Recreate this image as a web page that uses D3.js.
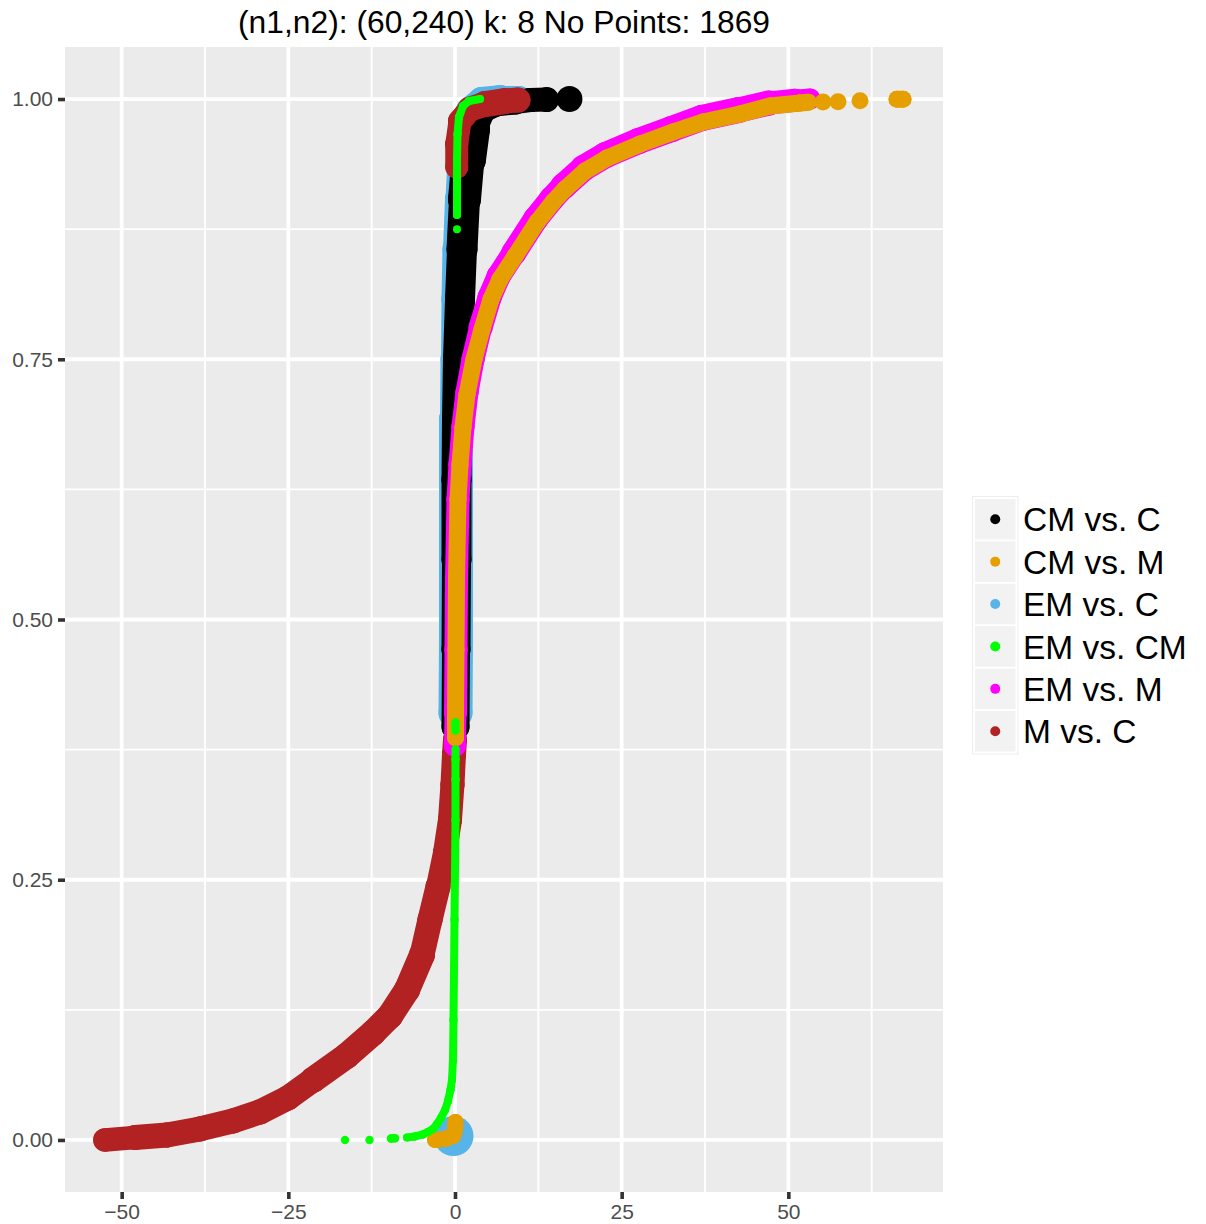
<!DOCTYPE html>
<html>
<head>
<meta charset="utf-8">
<script src="https://cdn.jsdelivr.net/npm/d3@7"></script>
<style>
  body { margin: 0; background: #ffffff; }
  svg { display: block; }
  text { font-family: "Liberation Sans", Arial, Helvetica, sans-serif; }
</style>
</head>
<body>
<svg id="chart" width="1206" height="1224"></svg>
<script>
// Title and axis ticks
const titleText = "(n1,n2): (60,240) k: 8 No Points: 1869";
const xTicks = [-50, -25, 0, 25, 50];
const yTicks = [0, 0.25, 0.5, 0.75, 1];

// Series, in legend order
const seriesNames = ["CM vs. C", "CM vs. M", "EM vs. C", "EM vs. CM", "EM vs. M", "M vs. C"];

// Each sampled point is [x, y, size]; null splits a series into separate runs.
const cmVsC = [
  [0.075, 0.3971, 7], [0.15, 0.4712, 7.25], [0.225, 0.5577, 7.5], [0.225, 0.6346, 7.5],
  [0.3, 0.6923, 7.5], [0.45, 0.75, 7.5], [0.75, 0.8077, 7.5], [1.05, 0.8558, 7.75],
  [1.425, 0.9038, 8.25], [1.95, 0.9423, 9], [2.55, 0.9712, 9], [3.75, 0.9885, 7.5],
  [6, 0.9952, 6.5], [9, 0.9971, 6.25], [11.25, 0.999, 6], [13.75, 0.9995, 6.25],
  null, [17.17, 1, 6.5]
];

const cmVsM = [
  [-3, 0, 4], [-1.5, 0.001, 4], [-0.3, 0.0038, 4], [0, 0.0096, 4], [0.075, 0.0173, 4],
  null,
  [0.075, 0.3865, 4.25], [0.075, 0.4106, 4.25], [0.15, 0.4712, 4.25], [0.225, 0.5385, 4.25],
  [0.45, 0.6154, 4.25], [0.75, 0.649, 4.25], [1.2, 0.6846, 4.25], [1.8, 0.7163, 4.25],
  [2.85, 0.75, 4.25], [4.05, 0.7788, 4.25], [5.4, 0.8077, 4.25], [6.75, 0.8269, 4.25],
  [9, 0.849, 4.25], [12.3, 0.8817, 4.25], [14.7, 0.901, 4.25], [16.5, 0.9135, 4.25],
  [19.5, 0.9308, 4.25], [22.8, 0.9433, 4.25], [27.75, 0.9567, 4.25], [32.7, 0.9683, 4.25],
  [37.2, 0.9779, 4.25], [42.75, 0.9856, 4.25], [47.25, 0.9933, 4.25], [51.75, 0.9962, 4.25],
  [53, 0.997, 4.25],
  null, [55.2, 0.9971, 4.25],
  null, [57.45, 0.9974, 4.25],
  null, [60.75, 0.9984, 4.25],
  null, [66.3, 0.9997, 4.25], [67.2, 0.9997, 4.25]
];

const emVsC = [
  [-0.225, 0.0038, 10],
  null,
  [0.075, 0.4106, 8.5], [0.15, 0.4808, 8.5], [0.15, 0.5577, 8.5], [0.15, 0.6346, 8.5],
  [0.15, 0.6923, 8.5], [0.225, 0.75, 8], [0.3, 0.8077, 7.75], [0.45, 0.8558, 7.75],
  [0.75, 0.9038, 7.5], [1.05, 0.9423, 7.25], [1.5, 0.9712, 7], [2.25, 0.9885, 7],
  [4.05, 0.9981, 7], [6.75, 1, 7], [9.6, 1, 6.5]
];

const emVsCM = [
  [-16.5, 0, 2.1], null, [-12.83, 0, 2.1], null, [-9.6, 0.0014, 2.1], [-9.0, 0.0016, 2.1], null,
  [-7.2, 0.0024, 2], [-6.0, 0.0034, 2], [-4.8, 0.0053, 2], [-4.05, 0.0077, 2],
  [-3.3, 0.0106, 2], [-2.7, 0.0154, 2], [-2.1, 0.0212, 2], [-1.5, 0.0288, 2],
  [-1.05, 0.0375, 2], [-0.675, 0.0481, 2], [-0.45, 0.0577, 2], [-0.3, 0.0769, 2],
  [-0.225, 0.1154, 2], [-0.15, 0.1635, 2], [-0.075, 0.2115, 2], [0, 0.2596, 2],
  [0.075, 0.3077, 2], [0.075, 0.3462, 2], [0.075, 0.3654, 2], [0.075, 0.375, 2],
  null, [0.075, 0.3933, 2], [0.075, 0.401, 2],
  null, [0.3, 0.875, 2],
  null, [0.3, 0.8885, 2], [0.3, 0.9135, 2], [0.3, 0.9423, 2], [0.375, 0.9663, 2],
  [0.6, 0.9827, 2], [1.2, 0.9933, 2], [2.1, 0.9981, 2], [3.75, 1, 2]
];

const emVsM = [
  [0, 0.3788, 5.5], [0.075, 0.4106, 5.75], [0.15, 0.4712, 5.75], [0.225, 0.5385, 5.75],
  [0.45, 0.6154, 5.75], [0.75, 0.649, 5.75], [1.2, 0.6856, 5.75], [1.8, 0.7183, 5.75],
  [2.7, 0.75, 5.75], [3.85, 0.7808, 6], [5.2, 0.8097, 6], [6.55, 0.8298, 6],
  [8.8, 0.852, 6.25], [12.1, 0.8847, 6.25], [14.5, 0.9039, 6.25], [16.3, 0.9164, 6.5],
  [19.3, 0.9337, 6.5], [22.6, 0.9462, 6.5], [27.55, 0.9597, 6.5], [32.5, 0.9712, 6.5],
  [37, 0.9818, 6.5], [42.55, 0.9895, 6.5], [47.1, 0.9962, 6.25], [51, 0.9988, 5.75],
  [53.25, 1, 5.25]
];

const mVsC = [
  [-52.5, 0, 5.9], [-48, 0.0024, 6.25], [-43.2, 0.0048, 6.25], [-38.25, 0.0106, 6.25],
  [-33.3, 0.0183, 6.25], [-29.25, 0.0269, 6.25], [-25.05, 0.0404, 6.25], [-21.3, 0.0577, 6.5],
  [-16.25, 0.0808, 6.5], [-12.3, 0.1029, 6.5], [-9.75, 0.1192, 6.5], [-7.2, 0.1442, 6.5],
  [-4.95, 0.1779, 6.5], [-3.75, 0.2115, 6.25], [-2.55, 0.2433, 6.25], [-1.5, 0.276, 6],
  [-0.75, 0.3077, 6], [-0.38, 0.3413, 6], [-0.15, 0.3702, 6], [0, 0.3846, 6],
  null,
  [0.26, 0.9346, 5.75], [0.26, 0.9567, 5.75], [0.75, 0.9788, 6], [2.25, 0.9904, 6.25],
  [4.5, 0.9952, 6.5], [7.5, 0.9981, 6.5], [9.45, 0.999, 6.25]
];

const seriesPoints = [cmVsC, cmVsM, emVsC, emVsCM, emVsM, mVsC];
const seriesColors = ["#000000", "#E69F00", "#56B4E9", "#00FF00", "#FF00FF", "#B22222"];
// painting order (back to front), as indices into the legend order
const paintOrder = [2, 0, 5, 4, 1, 3];

const svg = d3.select("#chart");
const panel = { left: 65, right: 943, top: 47, bottom: 1192 };

const x = d3.scaleLinear().domain([-58.5, 73.2]).range([panel.left, panel.right]);
const y = d3.scaleLinear().domain([-0.05, 1.05]).range([panel.bottom, panel.top]);
const r = d3.scaleLinear().domain([0, 10]).range([0, 20]);

// panel background
svg.append("rect")
  .attr("x", panel.left).attr("y", panel.top)
  .attr("width", panel.right - panel.left).attr("height", panel.bottom - panel.top)
  .attr("fill", "#EBEBEB");

// minor grid lines sit halfway between major ticks
const step = (a) => a[1] - a[0];
const xMinor = d3.range(xTicks[0] - step(xTicks) / 2, xTicks[xTicks.length - 1] + step(xTicks), step(xTicks))
  .filter(v => x(v) > panel.left && x(v) < panel.right);
const yMinor = d3.range(yTicks[0] - step(yTicks) / 2, yTicks[yTicks.length - 1] + step(yTicks), step(yTicks))
  .filter(v => y(v) < panel.bottom && y(v) > panel.top);

const grid = svg.append("g");
grid.selectAll(".xm").data(xMinor).join("line")
  .attr("x1", d => x(d)).attr("x2", d => x(d))
  .attr("y1", panel.top).attr("y2", panel.bottom)
  .attr("stroke", "#ffffff").attr("stroke-width", 1.9);
grid.selectAll(".ym").data(yMinor).join("line")
  .attr("y1", d => y(d)).attr("y2", d => y(d))
  .attr("x1", panel.left).attr("x2", panel.right)
  .attr("stroke", "#ffffff").attr("stroke-width", 1.9);
grid.selectAll(".xM").data(xTicks).join("line")
  .attr("x1", d => x(d)).attr("x2", d => x(d))
  .attr("y1", panel.top).attr("y2", panel.bottom)
  .attr("stroke", "#ffffff").attr("stroke-width", 3.8);
grid.selectAll(".yM").data(yTicks).join("line")
  .attr("y1", d => y(d)).attr("y2", d => y(d))
  .attr("x1", panel.left).attr("x2", panel.right)
  .attr("stroke", "#ffffff").attr("stroke-width", 3.8);

// clip marks to the panel
svg.append("clipPath").attr("id", "panel-clip")
  .append("rect")
  .attr("x", panel.left).attr("y", panel.top)
  .attr("width", panel.right - panel.left).attr("height", panel.bottom - panel.top);

const marks = svg.append("g").attr("clip-path", "url(#panel-clip)");

paintOrder.forEach(si => {
  const pts = seriesPoints[si];
  const color = seriesColors[si];
  const g = marks.append("g");
  const pairs = [];
  for (let i = 1; i < pts.length; i++) {
    if (pts[i - 1] && pts[i]) pairs.push([pts[i - 1], pts[i]]);
  }
  // densely overplotted runs: join neighbouring points with round-capped strokes
  g.selectAll("line").data(pairs).join("line")
    .attr("x1", d => x(d[0][0])).attr("y1", d => y(d[0][1]))
    .attr("x2", d => x(d[1][0])).attr("y2", d => y(d[1][1]))
    .attr("stroke", color)
    .attr("stroke-width", d => 2 * r(Math.min(d[0][2], d[1][2])))
    .attr("stroke-linecap", "round");
  g.selectAll("circle").data(pts.filter(p => p)).join("circle")
    .attr("cx", d => x(d[0])).attr("cy", d => y(d[1]))
    .attr("r", d => r(d[2]))
    .attr("fill", color);
});

// axes
const xAxis = d3.axisBottom(x).tickValues(xTicks).tickSize(7).tickPadding(4).tickFormat(d3.format("d"));
const yAxis = d3.axisLeft(y).tickValues(yTicks).tickSize(7).tickPadding(5).tickFormat(d3.format(".2f"));

const gx = svg.append("g").attr("transform", `translate(0,${panel.bottom})`).call(xAxis);
const gy = svg.append("g").attr("transform", `translate(${panel.left},0)`).call(yAxis);
[gx, gy].forEach(g => {
  g.select(".domain").remove();
  g.selectAll(".tick line").attr("stroke", "#333333").attr("stroke-width", 3.6);
  g.selectAll(".tick text").attr("fill", "#4D4D4D").attr("font-size", "21px")
    .attr("font-family", '"Liberation Sans", Arial, sans-serif');
});
gx.selectAll(".tick text").attr("y", 27).attr("dy", 0);

// title
svg.append("text")
  .attr("x", (panel.left + panel.right) / 2).attr("y", 33)
  .attr("text-anchor", "middle")
  .attr("font-size", "31.8px").attr("fill", "#000000")
  .text(titleText);

// legend
const legend = { x: 975, y: 499, key: 40.5, gap: 42.4 };
const lg = svg.append("g");
lg.append("rect")
  .attr("x", legend.x - 2.5).attr("y", legend.y - 2.5)
  .attr("width", legend.key + 5).attr("height", legend.gap * (seriesNames.length - 1) + legend.key + 5)
  .attr("fill", "#ffffff").attr("stroke", "#EDEDED").attr("stroke-width", 1);
seriesNames.forEach((name, i) => {
  const ky = legend.y + i * legend.gap;
  lg.append("rect")
    .attr("x", legend.x).attr("y", ky)
    .attr("width", legend.key).attr("height", legend.key)
    .attr("fill", "#F2F2F2");
  lg.append("circle")
    .attr("cx", legend.x + legend.key / 2).attr("cy", ky + legend.key / 2)
    .attr("r", 5).attr("fill", seriesColors[i]);
  lg.append("text")
    .attr("x", legend.x + legend.key + 7.5).attr("y", ky + legend.key / 2)
    .attr("dy", "0.36em")
    .attr("font-size", "33.5px").attr("fill", "#000000")
    .text(name);
});
</script>
</body>
</html>
